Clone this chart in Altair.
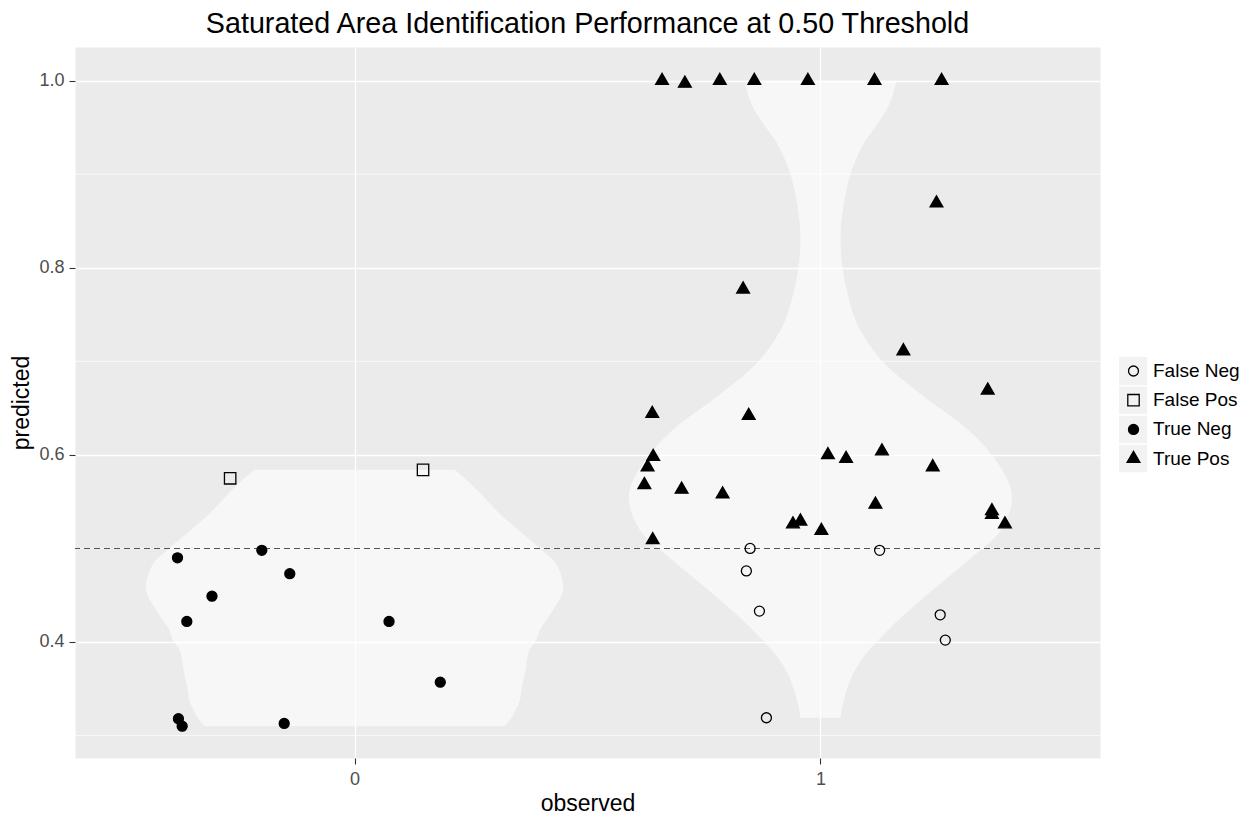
import altair as alt
import pandas as pd

outcomes = ["False Neg", "False Pos", "True Neg", "True Pos"]

# jittered observed class position (x) and predicted probability (y) per outcome
fn_x = [0.849, 1.127, 0.841, 0.869, 1.257, 1.268, 0.884]
fn_y = [0.500, 0.498, 0.476, 0.433, 0.429, 0.402, 0.319]

fp_x = [-0.267, 0.147]
fp_y = [0.575, 0.584]

tn_x = [-0.380, -0.199, -0.139, -0.306, -0.360, 0.074, 0.184, -0.378, -0.370, -0.151]
tn_y = [0.490, 0.498, 0.473, 0.449, 0.422, 0.422, 0.357, 0.318, 0.310, 0.313]

tp_x = [0.660, 0.709, 0.784, 0.858, 0.973, 1.116, 1.260, 1.249, 0.834, 1.178,
        1.359, 0.639, 0.846, 0.641, 1.016, 1.055, 1.132, 0.629, 1.241, 0.622,
        0.702, 0.790, 1.118, 1.368, 1.368, 0.941, 0.957, 1.396, 1.002, 0.640]
tp_y = [1.000, 0.997, 1.000, 1.000, 1.000, 1.000, 1.000, 0.869, 0.777, 0.711,
        0.669, 0.644, 0.642, 0.598, 0.600, 0.596, 0.604, 0.587, 0.587, 0.568,
        0.563, 0.558, 0.547, 0.540, 0.536, 0.526, 0.529, 0.526, 0.519, 0.509]

# violin outlines: predicted level and density half-width, for observed = 0 and 1
v0_level = [0.310, 0.317, 0.327, 0.338, 0.349, 0.367, 0.391, 0.402, 0.413, 0.434,
            0.458, 0.484, 0.500, 0.520, 0.538, 0.563, 0.584]
v0_half = [0.321, 0.334, 0.345, 0.355, 0.358, 0.366, 0.375, 0.390, 0.398, 0.426,
           0.448, 0.432, 0.398, 0.351, 0.310, 0.262, 0.216]
v1_level = [0.319, 0.341, 0.378, 0.413, 0.448, 0.484, 0.520, 0.555, 0.591, 0.627,
            0.662, 0.698, 0.731, 0.777, 0.795, 0.830, 0.865, 0.902, 0.937, 0.955,
            0.973, 1.000]
v1_half = [0.043, 0.052, 0.084, 0.146, 0.223, 0.309, 0.388, 0.411, 0.381, 0.317,
           0.223, 0.137, 0.088, 0.056, 0.049, 0.043, 0.049, 0.066, 0.098, 0.124,
           0.146, 0.163]

threshold = 0.50
minor_breaks = [0.3, 0.5, 0.7, 0.9]
major_breaks = [0.4, 0.6, 0.8, 1.0]

points = pd.DataFrame({
    "observed": fn_x + fp_x + tn_x + tp_x,
    "predicted": fn_y + fp_y + tn_y + tp_y,
    "outcome": (["False Neg"] * len(fn_x) + ["False Pos"] * len(fp_x)
                + ["True Neg"] * len(tn_x) + ["True Pos"] * len(tp_x)),
})


def violin_frame(center, levels, halves):
    return pd.DataFrame({
        "level": levels,
        "lo": [center - h for h in halves],
        "hi": [center + h for h in halves],
    })


x_scale = alt.Scale(domain=[-0.6, 1.6], nice=False, zero=False)
y_scale = alt.Scale(domain=[0.276, 1.036], nice=False, zero=False)

x_axis = alt.Axis(values=[0, 1], format="d", title="observed", grid=True,
                  gridColor="white", gridWidth=1.3, domain=False,
                  tickColor="#333333", tickSize=6, tickWidth=1.1,
                  labelColor="#4D4D4D", labelFontSize=18, labelPadding=6,
                  titleFontSize=23, titleFontWeight="normal", titleColor="black",
                  titlePadding=4)
y_axis = alt.Axis(values=major_breaks, format=".1f", title="predicted", grid=True,
                  gridColor="white", gridWidth=1.3, domain=False,
                  tickColor="#333333", tickSize=6, tickWidth=1.1,
                  labelColor="#4D4D4D", labelFontSize=18, labelPadding=5,
                  titleFontSize=23, titleFontWeight="normal", titleColor="black",
                  titlePadding=5)

# symbol outlines (unit box scaled by sqrt(size)/2): square and a
# centroid-centred triangle, drawn a little larger than the circles
square = "M-1.14,-1.14L1.14,-1.14L1.14,1.14L-1.14,1.14Z"
triangle = "M0,-1.478L1.28,0.739L-1.28,0.739Z"

main_legend = alt.Legend(title=None, orient="none", legendX=1044, legendY=310,
                         clipHeight=28, rowPadding=1.2, padding=0,
                         symbolOffset=5, labelOffset=10, labelFontSize=19,
                         labelColor="black", labelFont="Liberation Sans",
                         symbolStrokeWidth=1.3)

key_legend = alt.Legend(title=" ", titleFontSize=1, titlePadding=309,
                        orient="right", offset=19, clipHeight=28, rowPadding=1.2,
                        padding=0, symbolSize=784, symbolType="square",
                        symbolStrokeWidth=0, labelExpr="''", labelOpacity=0)

view_bg = alt.ViewBackground(fill="#EBEBEB", stroke="transparent")

minor_grid = alt.Chart(pd.DataFrame({"y": minor_breaks})).mark_rule(
    color="white", strokeWidth=0.7
).encode(y=alt.Y("y:Q", scale=y_scale, axis=y_axis))


def violin_layer(frame):
    return alt.Chart(frame).mark_area(
        interpolate="monotone", fill="#FFFFFF", fillOpacity=0.6
    ).encode(
        y=alt.Y("level:Q", scale=y_scale, axis=y_axis),
        x=alt.X("lo:Q", scale=x_scale, axis=x_axis),
        x2=alt.X2("hi"),
    )


violin0 = violin_layer(violin_frame(0, v0_level, v0_half))
violin1 = violin_layer(violin_frame(1, v1_level, v1_half))

cut = alt.Chart(pd.DataFrame({"y": [threshold]})).mark_rule(
    color="#555555", strokeWidth=1.1, strokeDash=[6, 4]
).encode(y=alt.Y("y:Q", scale=y_scale, axis=y_axis))

keys = alt.Chart(points).transform_filter("false").mark_point(
    shape="square", filled=True, size=784, opacity=1
).encode(
    color=alt.Color("outcome:N",
                    scale=alt.Scale(domain=outcomes, range=["#F2F2F2"] * 4),
                    legend=key_legend)
)

marks = alt.Chart(points).mark_point(
    filled=True, strokeWidth=1.3, opacity=1, size=100
).encode(
    x=alt.X("observed:Q", scale=x_scale, axis=x_axis),
    y=alt.Y("predicted:Q", scale=y_scale, axis=y_axis),
    shape=alt.Shape("outcome:N",
                    scale=alt.Scale(range=["circle", square, "circle", triangle]),
                    legend=main_legend),
    fill=alt.Fill("outcome:N",
                  scale=alt.Scale(range=["transparent", "transparent", "black", "black"]),
                  legend=main_legend),
    stroke=alt.Stroke("outcome:N",
                      scale=alt.Scale(range=["black", "black", "black", "black"]),
                      legend=main_legend),
)

chart = alt.layer(minor_grid, violin0, violin1, cut, keys, marks).properties(
    width=1025,
    height=711,
    view=view_bg,
    autosize=alt.AutoSizeParams(type="none"),
    padding={"left": 75, "top": 47, "right": 148, "bottom": 60},
    title=alt.TitleParams(
        "Saturated Area Identification Performance at 0.50 Threshold",
        fontSize=28.7, fontWeight="normal", color="black", anchor="middle",
        font="Liberation Sans", offset=8,
    ),
).configure(
    font="Liberation Sans", background="white"
).configure_view(
    fill="#EBEBEB", stroke="transparent"
)

chart.save("out.html", embed_options={"renderer": "svg", "actions": False})
